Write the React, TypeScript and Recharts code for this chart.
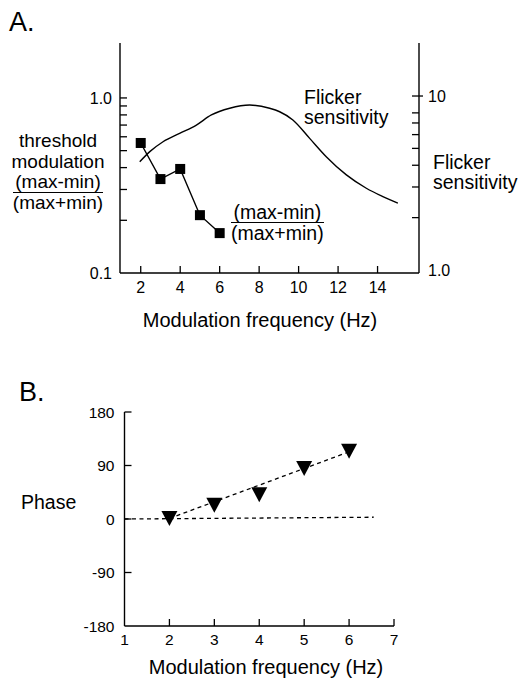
import React from "react"
import {
  ComposedChart,
  Line,
  Scatter,
  XAxis,
  YAxis,
} from "recharts"

// Panel A: threshold modulation (left log axis)
const modFreqA = [2, 3, 4, 5, 6]
const thresholdMod = [0.553, 0.344, 0.393, 0.214, 0.169]

// Panel A: flicker sensitivity curve (right log axis)
const flickerFreq = [1.95, 2.46, 3.13, 3.97, 4.82, 5.58, 6.51, 7.52, 8.53, 9.04, 9.71, 10.56, 11.4, 12.42, 13.43, 14.27, 15.03]
const flickerSens = [4.19, 4.79, 5.46, 6.1, 6.81, 7.78, 8.5, 8.87, 8.5, 8.12, 7.28, 5.71, 4.48, 3.52, 2.95, 2.64, 2.42]

const xTicksA = [2, 4, 6, 8, 10, 12, 14]
const leftTicksA = [0.1, 0.2, 0.3, 0.4, 0.5, 0.6, 0.7, 0.8, 0.9, 1.0]
const rightTicksA = [1, 2, 3, 4, 5, 6, 7, 8, 10]

// Panel B: phase
const modFreqB = [2, 3, 4, 5, 6]
const phase = [1, 23, 41, 85, 114]
const fitLineB = [
  { x: 2, y: 1 },
  { x: 6, y: 113 },
]
const zeroLineB = [
  { x: 1, y: 0 },
  { x: 6.55, y: 3 },
]
const xTicksB = [1, 2, 3, 4, 5, 6, 7]
const yTicksB = [-180, -90, 0, 90, 180]

const FONT = '"Liberation Sans", Arial, Helvetica, sans-serif'

const squareData = modFreqA.map((x, i) => ({ x, y: thresholdMod[i] }))
const flickerData = flickerFreq.map((x, i) => ({ x, y: flickerSens[i] }))
const phaseData = modFreqB.map((x, i) => ({ x, y: phase[i] }))

const SquareDot = (props: any) => {
  const { cx, cy } = props
  if (cx == null || cy == null) return null
  return <rect x={cx - 5} y={cy - 5} width={10} height={10} fill="#000" />
}

const TriangleDot = (props: any) => {
  const { cx, cy } = props
  if (cx == null || cy == null) return null
  return (
    <path
      d={`M${cx - 8},${cy - 7.5} L${cx + 8},${cy - 7.5} L${cx},${cy + 7.5} Z`}
      fill="#000"
    />
  )
}

const LeftTickA = (props: any) => {
  const { x, y, payload } = props
  const v = payload.value
  const label = v === 1 ? "1.0" : v === 0.1 ? "0.1" : ""
  return (
    <g>
      {v !== 0.1 && (
        <line x1={x} x2={x + 7} y1={y} y2={y} stroke="#000" strokeWidth={1.3} />
      )}
      {label && (
        <text x={x - 8} y={y} dy="0.36em" textAnchor="end" fontSize={16} fontFamily={FONT} fill="#000">
          {label}
        </text>
      )}
    </g>
  )
}

const RightTickA = (props: any) => {
  const { x, y, payload } = props
  const v = payload.value
  const label = v === 10 ? "10" : v === 1 ? "1.0" : ""
  return (
    <g>
      {v !== 1 && (
        <line x1={x - 7} x2={v === 10 ? x + 4 : x} y1={y} y2={y} stroke="#000" strokeWidth={1.3} />
      )}
      {label && (
        <text x={x + 9} y={y} dy="0.36em" textAnchor="start" fontSize={16} fontFamily={FONT} fill="#000">
          {label}
        </text>
      )}
    </g>
  )
}

const BottomTickA = (props: any) => {
  const { x, y, payload } = props
  return (
    <g>
      <line x1={x} x2={x} y1={y} y2={y - 7} stroke="#000" strokeWidth={1.3} />
      <text x={x} y={y + 14} dy="0.36em" textAnchor="middle" fontSize={16} fontFamily={FONT} fill="#000">
        {payload.value}
      </text>
    </g>
  )
}

const LeftTickB = (props: any) => {
  const { x, y, payload } = props
  const v = payload.value
  return (
    <g>
      {v !== -180 && (
        <line x1={x} x2={x + 7} y1={y} y2={y} stroke="#000" strokeWidth={1.3} />
      )}
      <text x={x - 10} y={y} dy="0.36em" textAnchor="end" fontSize={15.5} fontFamily={FONT} fill="#000">
        {v}
      </text>
    </g>
  )
}

const BottomTickB = (props: any) => {
  const { x, y, payload } = props
  const v = payload.value
  return (
    <g>
      {v !== 1 && (
        <line x1={x} x2={x} y1={y} y2={y - 7} stroke="#000" strokeWidth={1.3} />
      )}
      <text x={x} y={y + 13} dy="0.36em" textAnchor="middle" fontSize={15.5} fontFamily={FONT} fill="#000">
        {v}
      </text>
    </g>
  )
}

const Txt = ({
  left,
  cy,
  children,
  size = 19.5,
  align = "left",
  width,
}: {
  left: number
  cy: number
  children: React.ReactNode
  size?: number
  align?: "left" | "center"
  width?: number
}) => (
  <div
    style={{
      position: "absolute",
      left,
      top: cy - 10,
      width,
      lineHeight: "20px",
      fontSize: size,
      textAlign: align,
      whiteSpace: "nowrap",
    }}
  >
    {children}
  </div>
)

const Fraction = ({ lh = 20 }: { lh?: number }) => (
  <div style={{ display: "table", margin: "0 auto", textAlign: "center" }}>
    <div style={{ lineHeight: `${lh - 1}px`, borderBottom: "1.5px solid #000" }}>(max-min)</div>
    <div style={{ lineHeight: `${lh}px` }}>(max+min)</div>
  </div>
)

export default function App() {
  const axisStroke = { stroke: "#000", strokeWidth: 1.4 }
  return (
    <div
      style={{
        position: "absolute",
        left: 0,
        top: 0,
        width: 522,
        height: 678,
        background: "#fff",
        color: "#000",
        fontFamily: FONT,
        overflow: "hidden",
      }}
    >
      {/* Panel A */}
      <div style={{ position: "absolute", left: 0, top: 0 }}>
        <ComposedChart width={522} height={300} margin={{ top: 43, right: 0, bottom: 0, left: 0 }}>
          <XAxis
            xAxisId="bottom"
            dataKey="x"
            type="number"
            domain={[0.95, 16.1]}
            allowDataOverflow
            ticks={xTicksA}
            interval={0}
            height={27}
            tickSize={0}
            tickMargin={0}
            axisLine={axisStroke}
            tickLine={false}
            tick={<BottomTickA />}
          />
          <XAxis xAxisId="top" orientation="top" type="number" domain={[0.95, 16.1]} height={0} tick={false} tickLine={false} axisLine={axisStroke} />
          <YAxis
            yAxisId="left"
            scale="log"
            type="number"
            domain={[0.1, 2.06]}
            allowDataOverflow
            ticks={leftTicksA}
            interval={0}
            width={120}
            tickSize={0}
            tickMargin={0}
            axisLine={axisStroke}
            tickLine={false}
            tick={<LeftTickA />}
          />
          <YAxis
            yAxisId="right"
            orientation="right"
            scale="log"
            type="number"
            domain={[0.961, 20.17]}
            allowDataOverflow
            ticks={rightTicksA}
            interval={0}
            width={103}
            tickSize={0}
            tickMargin={0}
            axisLine={axisStroke}
            tickLine={false}
            tick={<RightTickA />}
          />
          <Line
            xAxisId="bottom"
            yAxisId="right"
            data={flickerData}
            dataKey="y"
            type="monotone"
            stroke="#000"
            strokeWidth={1.4}
            dot={false}
            isAnimationActive={false}
          />
          <Line
            xAxisId="bottom"
            yAxisId="left"
            data={squareData}
            dataKey="y"
            type="linear"
            stroke="#000"
            strokeWidth={1.4}
            dot={<SquareDot />}
            isAnimationActive={false}
          />
        </ComposedChart>
      </div>

      {/* Panel B */}
      <div style={{ position: "absolute", left: 0, top: 340 }}>
        <ComposedChart width={522} height={338} margin={{ top: 72, right: 128, bottom: 0, left: 0 }}>
          <XAxis
            dataKey="x"
            type="number"
            domain={[1, 7]}
            allowDataOverflow
            ticks={xTicksB}
            interval={0}
            height={52}
            tickSize={0}
            tickMargin={0}
            axisLine={axisStroke}
            tickLine={false}
            tick={<BottomTickB />}
          />
          <YAxis
            type="number"
            domain={[-180, 180]}
            allowDataOverflow
            ticks={yTicksB}
            interval={0}
            width={124.5}
            tickSize={0}
            tickMargin={0}
            axisLine={axisStroke}
            tickLine={false}
            tick={<LeftTickB />}
          />
          <Line data={zeroLineB} dataKey="y" type="linear" stroke="#000" strokeWidth={1.3} strokeDasharray="4 3.5" dot={false} isAnimationActive={false} />
          <Line data={fitLineB} dataKey="y" type="linear" stroke="#000" strokeWidth={1.3} strokeDasharray="4 3.5" dot={false} isAnimationActive={false} />
          <Scatter data={phaseData} dataKey="y" shape={<TriangleDot />} isAnimationActive={false} />
        </ComposedChart>
      </div>

      {/* Text labels */}
      <Txt left={9} cy={22} size={27}>A.</Txt>
      <div
        style={{
          position: "absolute",
          left: -2,
          top: 131,
          width: 120,
          textAlign: "center",
          fontSize: 19,
          lineHeight: "20.5px",
        }}
      >
        <div>threshold</div>
        <div>modulation</div>
        <Fraction lh={20.5} />
      </div>
      <div style={{ position: "absolute", left: 304, top: 87, fontSize: 19.5, lineHeight: "20px" }}>
        <div>Flicker</div>
        <div>sensitivity</div>
      </div>
      <div style={{ position: "absolute", left: 433, top: 152, fontSize: 19.5, lineHeight: "20px" }}>
        <div>Flicker</div>
        <div>sensitivity</div>
      </div>
      <div style={{ position: "absolute", left: 231, top: 203, fontSize: 19.5, lineHeight: "20px" }}>
        <Fraction />
      </div>
      <Txt left={60} cy={320} width={400} align="center" size={20}>
        Modulation frequency (Hz)
      </Txt>

      <Txt left={19} cy={392} size={27}>B.</Txt>
      <Txt left={21} cy={502}>Phase</Txt>
      <Txt left={66} cy={667} width={400} align="center" size={20}>
        Modulation frequency (Hz)
      </Txt>
    </div>
  )
}
